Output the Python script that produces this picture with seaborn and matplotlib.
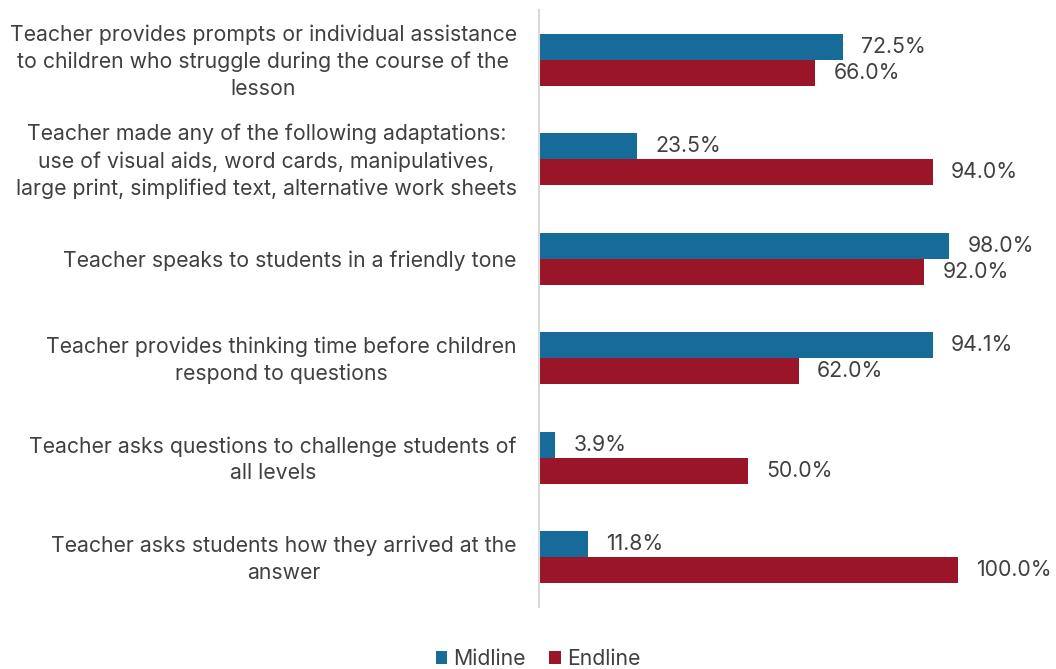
import matplotlib
matplotlib.use("Agg")
import matplotlib.pyplot as plt
from matplotlib.patches import Patch
from matplotlib.transforms import ScaledTranslation
import seaborn as sns
import pandas as pd

categories = [
    "Teacher provides prompts or individual assistance\nto children who struggle during the course of the\nlesson",
    "Teacher made any of the following adaptations:\nuse of visual aids, word cards, manipulatives,\nlarge print, simplified text, alternative work sheets",
    "Teacher speaks to students in a friendly tone",
    "Teacher provides thinking time before children\nrespond to questions",
    "Teacher asks questions to challenge students of\nall levels",
    "Teacher asks students how they arrived at the\nanswer",
]
midline = [72.5, 23.5, 98.0, 94.1, 3.9, 11.8]
endline = [66.0, 94.0, 92.0, 62.0, 50.0, 100.0]
series = ["Midline", "Endline"]
colors = {"Midline": "#166B99", "Endline": "#9B1529"}

df = pd.DataFrame({
    "category": categories * 2,
    "value": midline + endline,
    "series": [series[0]] * len(categories) + [series[1]] * len(categories),
})

sns.set_theme(style="white")
plt.rcParams["font.family"] = ["Inter", "DejaVu Sans"]
text_color = "#404040"
fs = 15.3

fig = plt.figure(figsize=(10.56, 6.69), dpi=100)
ax = fig.add_axes([539 / 1056, 1 - 607 / 669, (1050 - 539) / 1056, (607 - 10) / 669])

sns.barplot(data=df, x="value", y="category", hue="series", orient="h",
            palette=colors, width=0.52, gap=0, saturation=1, ax=ax,
            legend=False, edgecolor="none")

for container in ax.containers:
    ax.bar_label(container, fmt="%.1f%%", padding=13, fontsize=fs, color=text_color)

ax.set_xlim(0, 122)
ax.set_ylim(5.5, -0.5)
ax.set_xlabel("")
ax.set_ylabel("")
ax.set_xticks([])
for side in ["top", "right", "bottom"]:
    ax.spines[side].set_visible(False)
ax.spines["left"].set_color("#D9D9D9")
ax.spines["left"].set_linewidth(1.5)
ax.tick_params(axis="y", length=0, pad=16, labelsize=fs, labelcolor=text_color)

# Category labels: centred lines, nudged slightly down to sit on the bar pairs
nudge = ScaledTranslation(0, -2 / 100, fig.dpi_scale_trans)
for lbl in ax.get_yticklabels():
    lbl.set_multialignment("center")
    lbl.set_linespacing(1.43)
    lbl.set_verticalalignment("center")
    lbl.set_transform(lbl.get_transform() + nudge)

handles = [Patch(facecolor=colors[s], edgecolor="none", label=s) for s in series]
leg = fig.legend(handles=handles, loc="center", bbox_to_anchor=(0.5 + 10 / 1056, 1 - 659 / 669),
                 ncol=2, frameon=False, fontsize=fs, handlelength=0.55, handleheight=0.55,
                 handletextpad=0.3, columnspacing=1.08, borderaxespad=0)
for t in leg.get_texts():
    t.set_color(text_color)

fig.savefig("out.png", dpi=100)
